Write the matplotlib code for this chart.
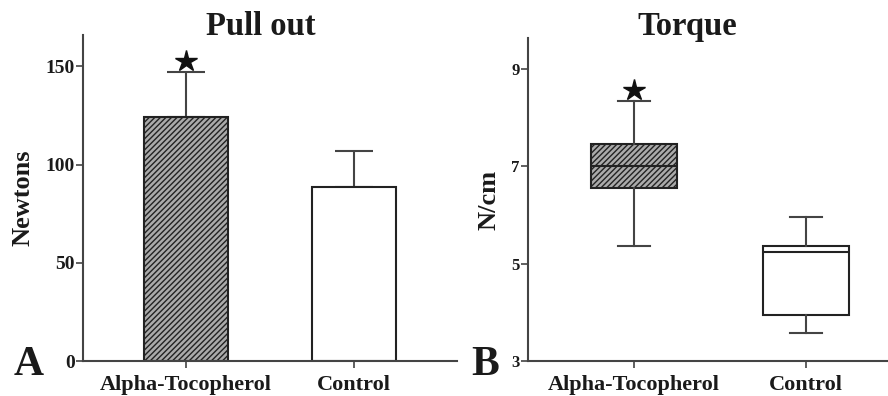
import matplotlib
matplotlib.use("Agg")
from matplotlib import pyplot as plt

plt.rcParams['font.family'] = ['Liberation Serif', 'DejaVu Serif']
plt.rcParams['font.weight'] = 'bold'
plt.rcParams['axes.labelweight'] = 'bold'
plt.rcParams['hatch.linewidth'] = 1.0
plt.rcParams['hatch.color'] = '#222222'

# data
groups = ['Alpha-Tocopherol', 'Control']
pull_mean = [124, 88.5]
pull_sd = [23, 18.5]
pull_star = 153

torque_whislo = [5.37, 3.58]
torque_q1 = [6.55, 3.94]
torque_med = [7.0, 5.25]
torque_q3 = [7.46, 5.37]
torque_whishi = [8.35, 5.96]
torque_star = 8.58

line_c = '#444444'
txt_c = '#1a1a1a'

fig = plt.figure(figsize=(8.88, 3.96), dpi=100)

# ---- A: pull out
ax1 = fig.add_axes([83/888, 1-361/396, (457-83)/888, (361-35)/396])
x = range(len(groups))
ax1.errorbar(x, pull_mean, yerr=[[0, 0], pull_sd], fmt='none', ecolor=line_c,
             elinewidth=1.5, capsize=14, capthick=1.5, zorder=1)
ax1.bar(x, pull_mean, width=0.5, color=['#aaaaaa', 'white'], edgecolor='#222222',
        linewidth=1.5, hatch=['//////', ''], zorder=2)
ax1.plot([0], [pull_star], marker='*', color='#111111', markersize=16, linestyle='none')
ax1.set_xlim(-0.613, 1.613)
ax1.set_ylim(0, 166)
ax1.set_yticks([0, 50, 100, 150])
ax1.set_xticks(list(x))
ax1.set_xticklabels(groups, fontsize=16, color=txt_c)
ax1.set_ylabel('Newtons', fontsize=19, color=txt_c, labelpad=8)
ax1.tick_params(axis='y', labelsize=14, length=5, width=1.2, color=line_c, labelcolor=txt_c, pad=1)
ax1.tick_params(axis='x', length=5, width=1.2, color=line_c, pad=5)
for s in ['top', 'right']:
    ax1.spines[s].set_visible(False)
for s in ['left', 'bottom']:
    ax1.spines[s].set_color(line_c)
    ax1.spines[s].set_linewidth(1.5)

# ---- B: torque
ax2 = fig.add_axes([528/888, 1-361/396, (890-528)/888, (361-38)/396])
stats = []
for i in range(len(groups)):
    stats.append(dict(label=groups[i], whislo=torque_whislo[i], q1=torque_q1[i],
                      med=torque_med[i], q3=torque_q3[i], whishi=torque_whishi[i], fliers=[]))
bp = ax2.bxp(stats, positions=list(x), widths=0.5, capwidths=0.19, patch_artist=True,
             boxprops=dict(edgecolor='#222222', linewidth=1.5),
             medianprops=dict(color='#222222', linewidth=1.5),
             whiskerprops=dict(color=line_c, linewidth=1.5),
             capprops=dict(color=line_c, linewidth=1.5))
bp['boxes'][0].set_facecolor('#aaaaaa')
bp['boxes'][0].set_hatch('//////')
bp['boxes'][1].set_facecolor('white')
ax2.plot([0], [torque_star], marker='*', color='#111111', markersize=16, linestyle='none')
ax2.set_xlim(-0.616, 1.488)
ax2.set_ylim(3, 9.64)
ax2.set_yticks([3, 5, 7, 9])
ax2.set_xticks(list(x))
ax2.set_xticklabels(groups, fontsize=16, color=txt_c)
ax2.set_ylabel('N/cm', fontsize=19, color=txt_c, labelpad=8)
ax2.tick_params(axis='y', labelsize=12, length=5, width=1.2, color=line_c, labelcolor=txt_c, pad=1)
ax2.tick_params(axis='x', length=5, width=1.2, color=line_c, pad=5)
for s in ['top', 'right']:
    ax2.spines[s].set_visible(False)
for s in ['left', 'bottom']:
    ax2.spines[s].set_color(line_c)
    ax2.spines[s].set_linewidth(1.5)

# titles and panel letters
fig.text(261/888, 1-35/396, 'Pull out', fontsize=23.5, ha='center', va='baseline', color=txt_c)
fig.text(687/888, 1-35/396, 'Torque', fontsize=23.5, ha='center', va='baseline', color=txt_c)
fig.text(14/888, 1-375/396, 'A', fontsize=30, ha='left', va='baseline', color=txt_c)
fig.text(471/888, 1-375/396, 'B', fontsize=30, ha='left', va='baseline', color=txt_c)

plt.savefig('out.png')
